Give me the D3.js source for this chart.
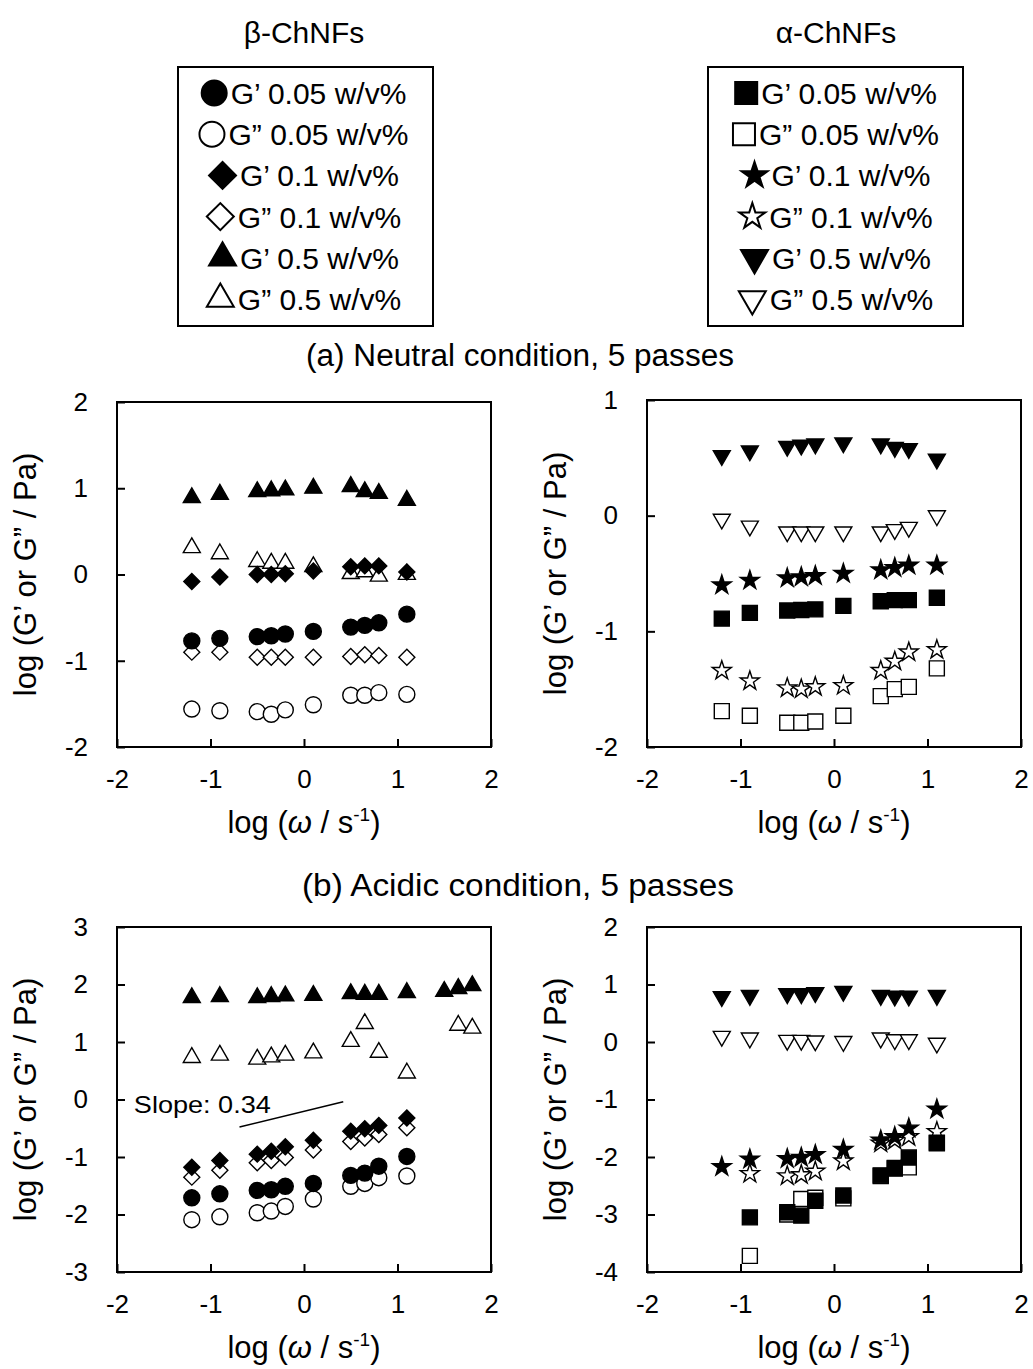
<!DOCTYPE html>
<html>
<head>
<meta charset="utf-8">
<script src="https://cdn.jsdelivr.net/npm/d3@7"></script>
<style>
body { margin: 0; background: #fff; }
svg { display: block; }
text { font-family: "Liberation Sans", Arial, sans-serif; fill: #000; }
</style>
</head>
<body>
<svg id="chart" width="1033" height="1369"></svg>
<script>
// log(omega / s-1) values of the frequency sweep
var logW = [-1.2, -0.9, -0.5, -0.35, -0.2, 0.1, 0.5, 0.65, 0.8, 1.1];
var logWAcidBeta = [-1.2, -0.9, -0.5, -0.35, -0.2, 0.1, 0.5, 0.65, 0.8, 1.1, 1.5, 1.65, 1.8];

// (a) neutral, beta-ChNFs  (G1 = G', G2 = G'')
var neuBetaG1_005 = [-0.77, -0.74, -0.72, -0.71, -0.69, -0.66, -0.61, -0.59, -0.56, -0.46];
var neuBetaG2_005 = [-1.56, -1.58, -1.59, -1.62, -1.57, -1.51, -1.40, -1.40, -1.37, -1.39];
var neuBetaG1_01  = [-0.08, -0.03, 0.00, 0.00, 0.01, 0.04, 0.09, 0.10, 0.10, 0.03];
var neuBetaG2_01  = [-0.90, -0.90, -0.96, -0.96, -0.96, -0.96, -0.95, -0.93, -0.94, -0.96];
var neuBetaG1_05  = [0.89, 0.93, 0.96, 0.97, 0.98, 1.00, 1.02, 0.96, 0.94, 0.86];
var neuBetaG2_05  = [0.31, 0.24, 0.15, 0.13, 0.13, 0.09, 0.01, 0.03, -0.02, 0.00];

// (a) neutral, alpha-ChNFs
var neuAlphaG1_005 = [-0.89, -0.84, -0.82, -0.815, -0.81, -0.78, -0.74, -0.73, -0.73, -0.71];
var neuAlphaG2_005 = [-1.69, -1.73, -1.79, -1.79, -1.78, -1.73, -1.56, -1.50, -1.48, -1.32];
var neuAlphaG1_01  = [-0.60, -0.56, -0.54, -0.53, -0.52, -0.50, -0.47, -0.45, -0.43, -0.43];
var neuAlphaG2_01  = [-1.34, -1.43, -1.49, -1.50, -1.48, -1.47, -1.34, -1.26, -1.18, -1.16];
var neuAlphaG1_05  = [0.52, 0.56, 0.60, 0.61, 0.62, 0.63, 0.62, 0.59, 0.58, 0.49];
var neuAlphaG2_05  = [-0.03, -0.09, -0.14, -0.14, -0.14, -0.14, -0.14, -0.12, -0.10, 0.00];

// (b) acidic, beta-ChNFs
var acidBetaG1_005 = [-1.71, -1.64, -1.58, -1.57, -1.51, -1.46, -1.32, -1.28, -1.16, -0.99];
var acidBetaG2_005 = [-2.09, -2.04, -1.97, -1.94, -1.86, -1.73, -1.51, -1.46, -1.36, -1.33];
var acidBetaG1_01  = [-1.18, -1.06, -0.95, -0.90, -0.82, -0.71, -0.55, -0.51, -0.45, -0.32];
var acidBetaG2_01  = [-1.35, -1.23, -1.10, -1.06, -1.01, -0.88, -0.73, -0.67, -0.61, -0.49];
var acidBetaG1_05  = [1.77, 1.79, 1.77, 1.79, 1.80, 1.81, 1.84, 1.83, 1.83, 1.86, 1.88, 1.93, 1.98];
var acidBetaG2_05  = [0.73, 0.77, 0.70, 0.74, 0.77, 0.81, 1.01, 1.32, 0.82, 0.46, null, 1.29, 1.24];

// (b) acidic, alpha-ChNFs
var acidAlphaG1_005 = [null, -3.05, -2.96, -3.02, -2.76, -2.67, -2.32, -2.19, -2.01, -1.75];
var acidAlphaG2_005 = [null, -3.72, -3.00, -2.73, -2.71, -2.72, -2.33, -2.20, -2.18, -1.76];
var acidAlphaG1_01  = [-2.17, -2.04, -2.03, -2.01, -1.96, -1.87, -1.71, -1.65, -1.50, -1.17];
var acidAlphaG2_01  = [null, -2.29, -2.33, -2.31, -2.25, -2.07, -1.76, -1.71, -1.65, -1.56];
var acidAlphaG1_05  = [0.79, 0.81, 0.84, 0.84, 0.86, 0.88, 0.81, 0.80, 0.80, 0.81];
var acidAlphaG2_05  = [0.10, 0.07, 0.03, 0.03, 0.02, 0.01, 0.07, 0.04, 0.04, -0.02];

var legendLabels = ["G\u2019 0.05 w/v%", "G\u201D 0.05 w/v%", "G\u2019 0.1 w/v%", "G\u201D 0.1 w/v%", "G\u2019 0.5 w/v%", "G\u201D 0.5 w/v%"];
var betaShapes  = ["circle", "circle", "diamond", "diamond", "triangle", "triangle"];
var alphaShapes = ["square", "square", "star", "star", "triangleDown", "triangleDown"];
var isFilled    = [true, false, true, false, true, false];

var xTicks = [-2, -1, 0, 1, 2];
var slopeLine = [[-0.69, -0.48], [0.42, -0.04]];

var svg = d3.select("#chart");

// marker: w is roughly the visible width in px
function markerPath(shape, w) {
  var sym = d3.symbol();
  if (shape == "circle") sym.type(d3.symbolCircle).size(Math.PI * w * w / 4);
  else if (shape == "square") sym.type(d3.symbolSquare).size(w * w);
  else if (shape == "diamond") sym.type(d3.symbolSquare).size(w * w / 2);
  else if (shape == "star") sym.type(d3.symbolStar).size(Math.pow(w / 1.902 , 2) / 0.8908130915);
  else sym.type(d3.symbolTriangle).size(Math.sqrt(3) / 4 * w * w);
  return sym();
}
function markerRotate(shape) {
  if (shape == "diamond") return 45;
  if (shape == "triangleDown") return 180;
  return 0;
}
function markerWidth(shape, big) {
  var m = big
    ? {circle: 25, square: 22, diamond: 27, triangle: 27, triangleDown: 27, star: 26}
    : {circle: 16, square: 15, diamond: 16, triangle: 17, triangleDown: 17, star: 19};
  return m[shape];
}

function drawPanel(opt) {
  var x = d3.scaleLinear().domain([-2, 2]).range([opt.left, opt.right]);
  var y = d3.scaleLinear().domain(opt.yDomain).range([opt.bottom, opt.top]);
  var g = svg.append("g");

  var xAxis = d3.axisBottom(x).tickValues(xTicks).tickSizeInner(-8).tickSizeOuter(0)
    .tickPadding(23).tickFormat(function(d) { return String(d); });
  var yAxis = d3.axisLeft(y).tickValues(d3.range(opt.yDomain[0], opt.yDomain[1] + 1)).tickSizeInner(-8).tickSizeOuter(0)
    .tickPadding(29).tickFormat(function(d) { return String(d); });

  var gx = g.append("g").attr("transform", "translate(0," + opt.bottom + ")").call(xAxis);
  var gy = g.append("g").attr("transform", "translate(" + opt.left + ",0)").call(yAxis);
  [gx, gy].forEach(function(a) {
    a.select(".domain").remove();
    a.selectAll(".tick line").attr("stroke", "#000").attr("stroke-width", 2);
    a.selectAll(".tick text").attr("font-size", 26).attr("fill", "#000")
      .style("font-family", "'Liberation Sans', Arial, sans-serif");
  });

  g.append("rect")
    .attr("x", opt.left).attr("y", opt.top)
    .attr("width", opt.right - opt.left).attr("height", opt.bottom - opt.top)
    .attr("fill", "none").attr("stroke", "#000").attr("stroke-width", 2);

  // axis titles
  var xt = g.append("text")
    .attr("x", (opt.left + opt.right) / 2).attr("y", opt.bottom + 86)
    .attr("text-anchor", "middle").attr("font-size", 31);
  xt.append("tspan").text("log (");
  xt.append("tspan").attr("font-style", "italic").text("\u03C9");
  xt.append("tspan").text(" / s");
  xt.append("tspan").attr("font-size", 19).attr("dy", -12).text("-1");
  xt.append("tspan").attr("dy", 12).text(")");

  g.append("text")
    .attr("transform", "translate(" + (opt.left - 81) + "," + ((opt.top + opt.bottom) / 2) + ") rotate(-90)")
    .attr("text-anchor", "middle").attr("font-size", 31)
    .text("log (G\u2019 or G\u201D / Pa)");

  // open markers first, filled markers on top
  var order = [5, 3, 1, 4, 2, 0];
  order.forEach(function(i) {
    var vals = opt.series[i];
    var pts = vals.map(function(v, k) { return [opt.xs[k], v]; })
      .filter(function(p) { return p[1] != null; });
    var shape = opt.shapes[i];
    g.append("g").selectAll("path").data(pts).enter().append("path")
      .attr("d", markerPath(shape, markerWidth(shape, false)))
      .attr("transform", function(p) {
        return "translate(" + x(p[0]) + "," + y(p[1]) + ") rotate(" + markerRotate(shape) + ")";
      })
      .attr("fill", isFilled[i] ? "#000" : "#fff")
      .attr("stroke", "#000").attr("stroke-width", 1.4);
  });

  if (opt.slope) {
    g.append("line")
      .attr("x1", x(slopeLine[0][0])).attr("y1", y(slopeLine[0][1]))
      .attr("x2", x(slopeLine[1][0])).attr("y2", y(slopeLine[1][1]))
      .attr("stroke", "#000").attr("stroke-width", 1.5);
    g.append("text").attr("x", x(-1.82)).attr("y", y(-0.24))
      .attr("font-size", 24).attr("textLength", 137).attr("lengthAdjust", "spacingAndGlyphs")
      .text("Slope: 0.34");
  }
}

function drawLegend(cx, header, shapes, box) {
  svg.append("text").attr("x", cx).attr("y", 43).attr("text-anchor", "middle")
    .attr("font-size", 30).text(header);
  svg.append("rect").attr("x", box[0]).attr("y", 67).attr("width", box[1] - box[0]).attr("height", 259)
    .attr("fill", "none").attr("stroke", "#000").attr("stroke-width", 2);
  legendLabels.forEach(function(lab, i) {
    var base = 104 + i * 41.2;
    var t = svg.append("text").attr("y", base).attr("font-size", 30).text(lab);
    var tw = t.node().getComputedTextLength();
    var mw = markerWidth(shapes[i], true);
    var start = cx - (mw + 4 + tw) / 2;
    t.attr("x", start + mw + 4);
    svg.append("path")
      .attr("d", markerPath(shapes[i], mw))
      .attr("transform", "translate(" + (start + mw / 2) + "," + (base - 11) + ") rotate(" + markerRotate(shapes[i]) + ")")
      .attr("fill", isFilled[i] ? "#000" : "#fff")
      .attr("stroke", "#000").attr("stroke-width", 2);
  });
}

drawLegend(304, "\u03B2-ChNFs", betaShapes, [178, 433]);
drawLegend(836, "\u03B1-ChNFs", alphaShapes, [708, 963]);

svg.append("text").attr("x", 520).attr("y", 366).attr("text-anchor", "middle")
  .attr("font-size", 31).attr("textLength", 428).attr("lengthAdjust", "spacingAndGlyphs")
  .text("(a) Neutral condition, 5 passes");
svg.append("text").attr("x", 518).attr("y", 896).attr("text-anchor", "middle")
  .attr("font-size", 31).attr("textLength", 432).attr("lengthAdjust", "spacingAndGlyphs")
  .text("(b) Acidic condition, 5 passes");

drawPanel({left: 117, right: 491, top: 402, bottom: 747, yDomain: [-2, 2], xs: logW, shapes: betaShapes,
  series: [neuBetaG1_005, neuBetaG2_005, neuBetaG1_01, neuBetaG2_01, neuBetaG1_05, neuBetaG2_05]});
drawPanel({left: 647, right: 1021, top: 400, bottom: 747, yDomain: [-2, 1], xs: logW, shapes: alphaShapes,
  series: [neuAlphaG1_005, neuAlphaG2_005, neuAlphaG1_01, neuAlphaG2_01, neuAlphaG1_05, neuAlphaG2_05]});
drawPanel({left: 117, right: 491, top: 927, bottom: 1272, yDomain: [-3, 3], xs: logWAcidBeta, shapes: betaShapes, slope: true,
  series: [acidBetaG1_005, acidBetaG2_005, acidBetaG1_01, acidBetaG2_01, acidBetaG1_05, acidBetaG2_05]});
drawPanel({left: 647, right: 1021, top: 927, bottom: 1272, yDomain: [-4, 2], xs: logW, shapes: alphaShapes,
  series: [acidAlphaG1_005, acidAlphaG2_005, acidAlphaG1_01, acidAlphaG2_01, acidAlphaG1_05, acidAlphaG2_05]});
</script>
</body>
</html>
